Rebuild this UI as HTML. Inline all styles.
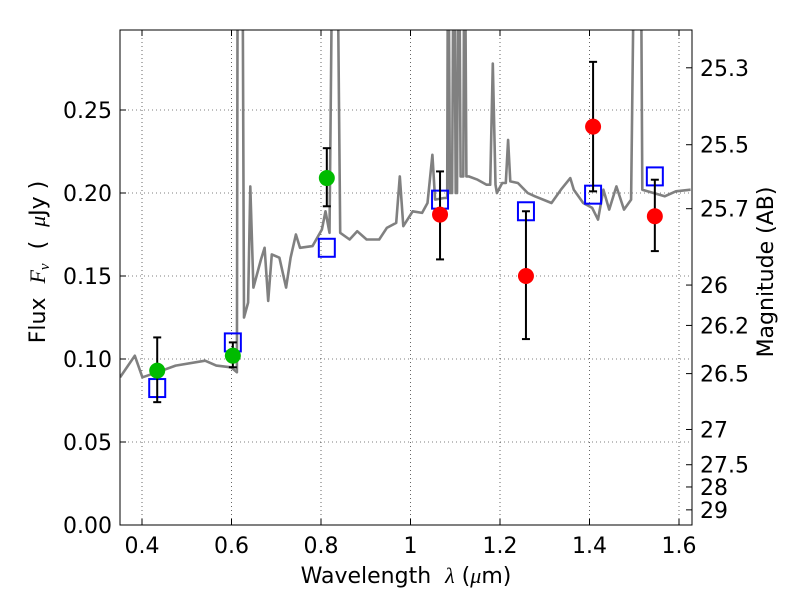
<!DOCTYPE html>
<html><head><meta charset="utf-8"><style>
body{margin:0;background:#fff}
svg{font-family:"DejaVu Sans","Liberation Sans",sans-serif}
</style></head><body>
<svg id="c" width="800" height="600" xmlns="http://www.w3.org/2000/svg">
<defs><clipPath id="pa"><rect x="120" y="30" width="572" height="495"/></clipPath></defs>
<rect x="0" y="0" width="800" height="600" fill="#fff"/>
<g id="grid"></g>
<g id="spec" clip-path="url(#pa)"></g>
<g id="marks" clip-path="url(#pa)"></g>
<rect x="120" y="30" width="572" height="495" fill="none" stroke="#000" stroke-width="1"/>
<g id="axes"></g>
<text x="406" y="583" text-anchor="middle" font-size="22" xml:space="preserve">Wavelength  <tspan font-family="Liberation Serif" font-style="italic">λ</tspan> (<tspan font-family="Liberation Serif" font-style="italic">μ</tspan>m)</text>
<text transform="translate(45,262) rotate(-90)" text-anchor="middle" font-size="22" xml:space="preserve">Flux  <tspan font-family="Liberation Serif" font-style="italic">F<tspan font-size="15" dy="4">ν</tspan></tspan><tspan dy="-4">  (  </tspan><tspan font-family="Liberation Serif" font-style="italic">μ</tspan>Jy )</text>
<text transform="translate(773,272) rotate(-90)" text-anchor="middle" font-size="22">Magnitude (AB)</text>
</svg>
<script>
const specW=[0.351,0.384,0.401,0.434,0.475,0.541,0.566,0.599,0.612,0.614,0.616,0.622,0.624,0.628,0.637,0.642,0.649,0.666,0.674,0.682,0.69,0.707,0.722,0.732,0.744,0.753,0.781,0.802,0.81,0.819,0.827,0.829,0.833,0.835,0.843,0.864,0.881,0.902,0.93,0.947,0.968,0.976,0.984,1.005,1.026,1.038,1.049,1.055,1.075,1.082,1.084,1.088,1.093,1.097,1.101,1.104,1.108,1.112,1.118,1.121,1.125,1.13,1.15,1.17,1.178,1.184,1.19,1.193,1.205,1.213,1.218,1.223,1.24,1.262,1.278,1.315,1.336,1.357,1.365,1.386,1.406,1.419,1.431,1.444,1.46,1.477,1.493,1.502,1.505,1.511,1.514,1.518,1.543,1.568,1.593,1.626];
const specF=[0.089,0.102,0.089,0.092,0.096,0.099,0.096,0.095,0.092,0.40,0.40,0.40,0.40,0.125,0.134,0.204,0.143,0.160,0.167,0.135,0.163,0.161,0.143,0.161,0.175,0.167,0.168,0.178,0.189,0.176,0.40,0.40,0.40,0.40,0.176,0.172,0.177,0.172,0.172,0.179,0.182,0.210,0.180,0.189,0.188,0.194,0.223,0.196,0.197,0.197,0.40,0.200,0.200,0.40,0.200,0.200,0.40,0.210,0.210,0.40,0.210,0.210,0.208,0.205,0.205,0.278,0.205,0.200,0.206,0.206,0.232,0.207,0.206,0.200,0.198,0.194,0.202,0.209,0.202,0.194,0.191,0.184,0.202,0.190,0.204,0.190,0.196,0.40,0.40,0.40,0.40,0.202,0.200,0.198,0.201,0.202];
const greenW=[0.434,0.603,0.813], greenF=[0.093,0.102,0.209], greenHi=[0.113,0.110,0.227], greenLo=[0.074,0.095,0.192];
const redW=[1.066,1.258,1.408,1.546], redF=[0.187,0.150,0.240,0.186], redHi=[0.213,0.189,0.279,0.208], redLo=[0.160,0.112,0.201,0.165];
const boxW=[0.434,0.603,0.813,1.066,1.258,1.408,1.546], boxF=[0.0825,0.110,0.167,0.196,0.189,0.199,0.210];
const xTicks=[0.4,0.6,0.8,1.0,1.2,1.4,1.6], xTickLabels=["0.4","0.6","0.8","1","1.2","1.4","1.6"];
const yTicks=[0,0.05,0.10,0.15,0.20,0.25], yTickLabels=["0.00","0.05","0.10","0.15","0.20","0.25"];
const magTicks=[25.3,25.5,25.7,26,26.2,26.5,27,27.5,28,29];
const X=w=>142+(w-0.4)*447.5, Y=f=>525-f*1660;
const NS="http://www.w3.org/2000/svg";
function mk(p,t,a){const e=document.createElementNS(NS,t);for(const k in a)e.setAttribute(k,a[k]);p.appendChild(e);return e;}
const grid=document.getElementById('grid'),axes=document.getElementById('axes'),spec=document.getElementById('spec'),marks=document.getElementById('marks');
xTicks.forEach((v,i)=>{const x=X(v);
 let g=mk(grid,'line',{x1:x,x2:x,y1:30,y2:525,stroke:'#000','stroke-width':0.6,'stroke-dasharray':'1,3'});
 
 
 mk(axes,'line',{x1:x,x2:x,y1:525,y2:519,stroke:'#000'});mk(axes,'line',{x1:x,x2:x,y1:30,y2:36,stroke:'#000'});
 let t=mk(axes,'text',{x:x,y:553,'text-anchor':'middle','font-size':22});t.textContent=xTickLabels[i];
 
 });
yTicks.forEach((v,i)=>{const y=Y(v);
 if(v>0){let g=mk(grid,'line',{x1:120,x2:692,y1:y,y2:y,stroke:'#000','stroke-width':0.6,'stroke-dasharray':'1,3'});
 
 }
 mk(axes,'line',{x1:120,x2:126,y1:y,y2:y,stroke:'#000'});
 let t=mk(axes,'text',{x:112,y:y+8,'text-anchor':'end','font-size':22});t.textContent=yTickLabels[i];
 
 });
magTicks.forEach(m=>{const y=Y(Math.pow(10,(23.9-m)/2.5));
 mk(axes,'line',{x1:692,x2:686,y1:y,y2:y,stroke:'#000'});
 let t=mk(axes,'text',{x:700,y:y+8,'font-size':22});t.textContent=String(m);
 
 });
let pts=specW.map((w,i)=>X(w).toFixed(1)+','+Y(specF[i]).toFixed(1)).join(' ');
let pl=mk(spec,'polyline',{points:pts,fill:'none',stroke:'#808080','stroke-width':2.6,'stroke-linejoin':'round'});


function err(w,hi,lo){const x=X(w);
 mk(marks,'line',{x1:x,x2:x,y1:Y(hi),y2:Y(lo),stroke:'#000','stroke-width':2});
 mk(marks,'line',{x1:x-4,x2:x+4,y1:Y(hi),y2:Y(hi),stroke:'#000','stroke-width':2});
 mk(marks,'line',{x1:x-4,x2:x+4,y1:Y(lo),y2:Y(lo),stroke:'#000','stroke-width':2});}
boxW.forEach((w,i)=>{let r=mk(marks,'rect',{x:X(w)-8,y:Y(boxF[i])-9,width:16,height:18,fill:'none',stroke:'#0000ff','stroke-width':2});
 
 });
greenW.forEach((w,i)=>{err(w,greenHi[i],greenLo[i]);let c=mk(marks,'circle',{cx:X(w),cy:Y(greenF[i]),r:8,fill:'#00bb00'});
 
 });
redW.forEach((w,i)=>{err(w,redHi[i],redLo[i]);let c=mk(marks,'circle',{cx:X(w),cy:Y(redF[i]),r:8,fill:'#ff0000'});
 
 });
</script>
</body></html>
